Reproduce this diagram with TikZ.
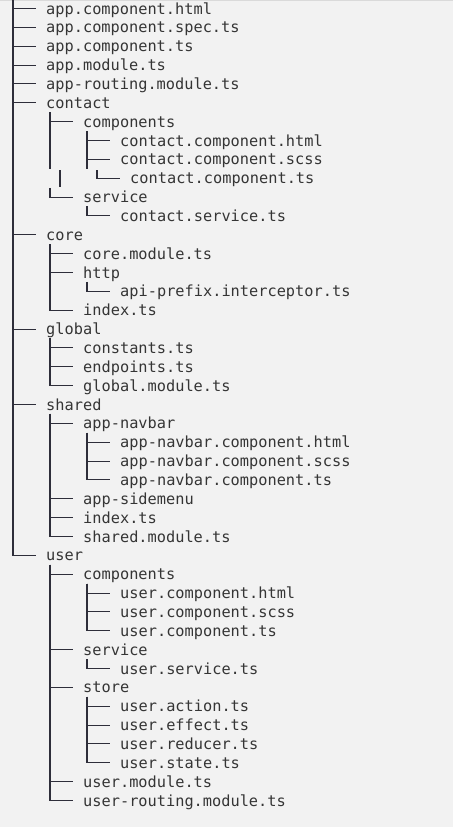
\documentclass[tikz,border=0pt]{standalone}
\usepackage{fontspec}
\newfontfamily\treefont{DejaVu Sans Mono}
\definecolor{bgc}{HTML}{F2F2F2}
\definecolor{txt}{HTML}{353535}
\definecolor{lnc}{HTML}{2E2E3A}
\definecolor{topline}{HTML}{DADADA}
\newcommand{\mkent}[4]{\node[entry] (#1) at ({46+37*(#2-1)},{14+18.857*(#3-1)}) {#4};}
\newcommand{\mkbar}[1]{\coordinate (#1-b) at ([shift={(4,3.9)}]#1.base west);}
\newcommand{\lnk}[2]{\draw[conn] (#1-b) |- ([shift={(-10,-5.5)}]#2.base west);}
\tikzset{
  entry/.style={anchor=base west, inner sep=0pt, text=txt, font=\treefont\fontsize{15.3}{18}\selectfont},
  conn/.style={draw=lnc, line width=1.1pt}
}
\begin{document}
\begin{tikzpicture}[x=1pt,y=-1pt]
\useasboundingbox (0,0) rectangle (453,827);
\fill[bgc] (0,0) rectangle (453,827);
\draw[topline, line width=1pt] (0,0.5) -- (453,0.5);
% entries
\mkent{a1}{1}{1}{app.component.html}
\mkent{a2}{1}{2}{app.component.spec.ts}
\mkent{a3}{1}{3}{app.component.ts}
\mkent{a4}{1}{4}{app.module.ts}
\mkent{a5}{1}{5}{app-routing.module.ts}
\mkent{contact}{1}{6}{contact}
\mkent{cc}{2}{7}{components}
\mkent{cc1}{3}{8}{contact.component.html}
\mkent{cc2}{3}{9}{contact.component.scss}
\node[entry] (cc3) at (130,{14+18.857*9}) {contact.component.ts};
\mkent{cs}{2}{11}{service}
\mkent{cs1}{3}{12}{contact.service.ts}
\mkent{core}{1}{13}{core}
\mkent{co1}{2}{14}{core.module.ts}
\mkent{http}{2}{15}{http}
\mkent{h1}{3}{16}{api-prefix.interceptor.ts}
\mkent{co2}{2}{17}{index.ts}
\mkent{global}{1}{18}{global}
\mkent{g1}{2}{19}{constants.ts}
\mkent{g2}{2}{20}{endpoints.ts}
\mkent{g3}{2}{21}{global.module.ts}
\mkent{shared}{1}{22}{shared}
\mkent{nav}{2}{23}{app-navbar}
\mkent{nav1}{3}{24}{app-navbar.component.html}
\mkent{nav2}{3}{25}{app-navbar.component.scss}
\mkent{nav3}{3}{26}{app-navbar.component.ts}
\mkent{s1}{2}{27}{app-sidemenu}
\mkent{s2}{2}{28}{index.ts}
\mkent{s3}{2}{29}{shared.module.ts}
\mkent{user}{1}{30}{user}
\mkent{uc}{2}{31}{components}
\mkent{uc1}{3}{32}{user.component.html}
\mkent{uc2}{3}{33}{user.component.scss}
\mkent{uc3}{3}{34}{user.component.ts}
\mkent{us}{2}{35}{service}
\mkent{us1}{3}{36}{user.service.ts}
\mkent{st}{2}{37}{store}
\mkent{st1}{3}{38}{user.action.ts}
\mkent{st2}{3}{39}{user.effect.ts}
\mkent{st3}{3}{40}{user.reducer.ts}
\mkent{st4}{3}{41}{user.state.ts}
\mkent{u1}{2}{42}{user.module.ts}
\mkent{u2}{2}{43}{user-routing.module.ts}
% bar coordinates
\coordinate (root-b) at (13,0);
\foreach \p in {contact,cc,cs,core,http,global,shared,nav,user,uc,us,st} {\mkbar{\p}}
% root connectors
\foreach \c in {a1,a2,a3,a4,a5,contact,core,global,shared,user} {\lnk{root}{\c}}
% contact (irregular row)
\lnk{contact}{cc}
\coordinate (contact-end) at (50,168.8);
\draw[conn] (contact-b) -- (contact-end);
\coordinate (cs-top) at (50,187.8);
\draw[conn] (cs-top) |- ([shift={(-10,-5.5)}]cs.base west);
\coordinate (stray-a) at (60,170);
\coordinate (stray-b) at (60,187);
\draw[conn] (stray-a) -- (stray-b);
\lnk{cc}{cc1}
\lnk{cc}{cc2}
\coordinate (cc-end) at (87,168.8);
\draw[conn] (cc-b) -- (cc-end);
\coordinate (cc3-top) at (97,170);
\draw[conn] (cc3-top) |- ([shift={(-10,-5.5)}]cc3.base west);
\lnk{cs}{cs1}
% core
\foreach \c in {co1,http,co2} {\lnk{core}{\c}}
\lnk{http}{h1}
% global
\foreach \c in {g1,g2,g3} {\lnk{global}{\c}}
% shared
\foreach \c in {nav,s1,s2,s3} {\lnk{shared}{\c}}
\foreach \c in {nav1,nav2,nav3} {\lnk{nav}{\c}}
% user
\foreach \c in {uc,us,st,u1,u2} {\lnk{user}{\c}}
\foreach \c in {uc1,uc2,uc3} {\lnk{uc}{\c}}
\lnk{us}{us1}
\foreach \c in {st1,st2,st3,st4} {\lnk{st}{\c}}
\end{tikzpicture}
\end{document}
